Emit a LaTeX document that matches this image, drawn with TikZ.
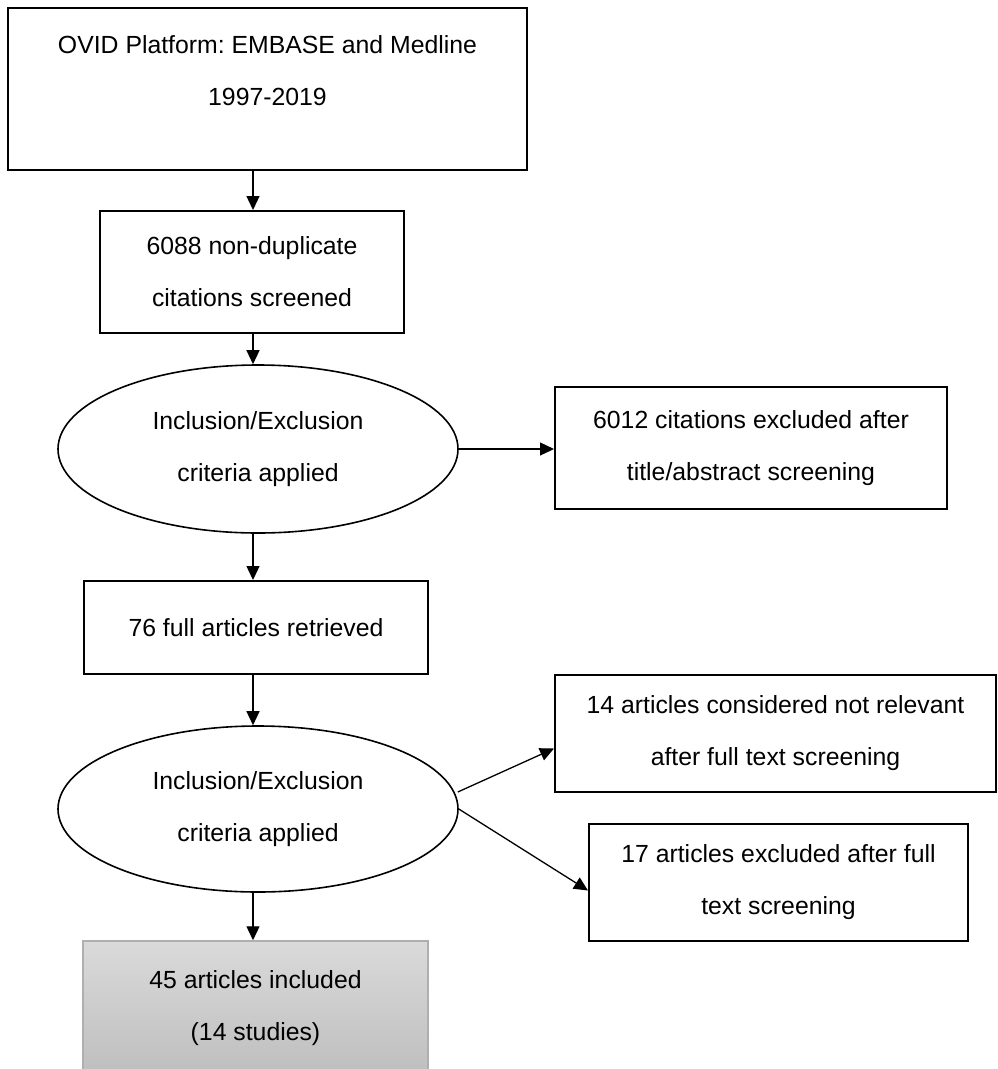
\documentclass[tikz,border=0pt]{standalone}
\usepackage{fontspec}
\setmainfont{Liberation Sans}
\usetikzlibrary{shapes.geometric,arrows.meta,calc}
\definecolor{graytop}{RGB}{218,218,218}
\definecolor{graybot}{RGB}{190,190,190}
\definecolor{grayedge}{RGB}{175,175,175}
\frenchspacing
\begin{document}
\begin{tikzpicture}[x=1pt,y=-1pt,
  txt/.style={font=\fontsize{24.8}{52}\selectfont, align=center, text=black},
  box/.style={draw=black, line width=2pt, inner sep=0pt, txt},
  oval/.style={draw=black, ellipse, line width=1.6pt, inner sep=0pt, txt, minimum width=400pt},
  arr/.style={line width=1.3pt, -{Triangle[length=14pt,width=13pt]}}]
\useasboundingbox (0,0) rectangle (997,1069);
\coordinate (axis) at (253,0);
% boxes
\node[box, minimum width=519pt, minimum height=162pt] (b1) at (267.5,89) {};
\node[txt] (t1) at (267.5,70.5) {OVID Platform: EMBASE and Medline\\1997-2019};
\node[box, minimum width=304pt, minimum height=122pt] (b2) at (252,272) {6088 non-duplicate\\citations screened};
\node[oval, minimum height=168pt] (e1) at (258,449) {Inclusion/Exclusion\\criteria applied};
\node[box, minimum width=392pt, minimum height=122pt] (b3) at (751,448) {6012 citations excluded after\\title/abstract screening};
\node[box, minimum width=344pt, minimum height=93pt] (b4) at (256,627.5) {76 full articles retrieved};
\node[oval, minimum height=166pt] (e2) at (258,809) {Inclusion/Exclusion\\criteria applied};
\node[box, minimum width=441pt, minimum height=117pt] (b5) at (775.5,733.5) {14 articles considered not relevant\\after full text screening};
\node[box, minimum width=379pt, minimum height=117pt] (b6) at (778.5,882.5) {17 articles excluded after full\\text screening};
\node[box, draw=grayedge, line width=1.5pt, top color=graytop, bottom color=graybot, minimum width=345pt, minimum height=135pt] (b7) at (255.5,1008.5) {45 articles included\\(14 studies)};
% connectors
\draw[arr] (b1.south -| axis) -- (b2.north -| axis);
\draw[arr] (b2.south -| axis) -- (e1.north -| axis);
\draw[arr] (e1.east) -- (e1.east -| b3.west);
\draw[arr] (e1.south -| axis) -- (b4.north -| axis);
\draw[arr] (b4.south -| axis) -- (e2.north -| axis);
\draw[arr] ($(e2.east)+(-1,-17)$) -- ($(b5.west)+(0,15)$);
\draw[arr] ($(e2.east)+(0,0)$) -- ($(b6.west)+(0,8)$);
\draw[arr] (e2.south -| axis) -- (b7.north -| axis);
\end{tikzpicture}
\end{document}
